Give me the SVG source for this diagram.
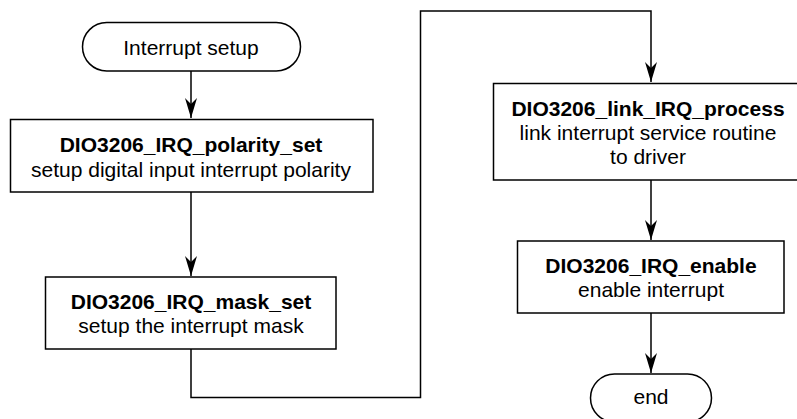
<svg xmlns="http://www.w3.org/2000/svg" width="797" height="419" viewBox="0 0 797 419">
<style>
.box{fill:#fff;stroke:#000;stroke-width:1.5}
.con{fill:none;stroke:#000;stroke-width:1.5}
text{font-family:"Liberation Sans",Arial,sans-serif;font-size:21px;fill:#000;text-anchor:middle}
.b{font-weight:bold}
</style>
<defs>
<marker id="arr" markerUnits="userSpaceOnUse" markerWidth="24" markerHeight="16" viewBox="-22 -8 24 16" refX="0" refY="0" orient="auto">
<path d="M0,0 L-20,-6 L-14,0 L-20,6 Z" fill="#000"/>
</marker>
</defs>
<rect width="797" height="419" fill="#fff"/>
<g id="connectors">
<path class="con" d="M191,71 V118" marker-end="url(#arr)"/>
<path class="con" d="M191,192 V276" marker-end="url(#arr)"/>
<path class="con" d="M191,349 V397.5 H420.5 V11 H651 V82" marker-end="url(#arr)"/>
<path class="con" d="M651,180 V240" marker-end="url(#arr)"/>
<path class="con" d="M651,313 V373" marker-end="url(#arr)"/>
</g>
<g id="start">
<rect class="box" x="82.5" y="22.5" width="218" height="48.5" rx="24.25"/>
<text x="191" y="55">Interrupt setup</text>
</g>
<g id="polarity">
<rect class="box" x="10.5" y="119.5" width="362.5" height="72.5"/>
<text class="b" x="191" y="152">DIO3206_IRQ_polarity_set</text>
<text x="191" y="177">setup digital input interrupt polarity</text>
</g>
<g id="mask">
<rect class="box" x="45.5" y="277" width="290.5" height="72"/>
<text class="b" x="191" y="309">DIO3206_IRQ_mask_set</text>
<text x="191" y="333">setup the interrupt mask</text>
</g>
<g id="link">
<rect class="box" x="493.5" y="83.5" width="310" height="96.5"/>
<text class="b" x="648" y="116">DIO3206_link_IRQ_process</text>
<text x="648" y="140">link interrupt service routine</text>
<text x="648" y="164">to driver</text>
</g>
<g id="enable">
<rect class="box" x="517.5" y="241" width="266.5" height="72"/>
<text class="b" x="651" y="273">DIO3206_IRQ_enable</text>
<text x="651" y="297">enable interrupt</text>
</g>
<g id="end">
<rect class="box" x="590.5" y="374" width="121" height="48" rx="24"/>
<text x="651" y="404">end</text>
</g>
</svg>
